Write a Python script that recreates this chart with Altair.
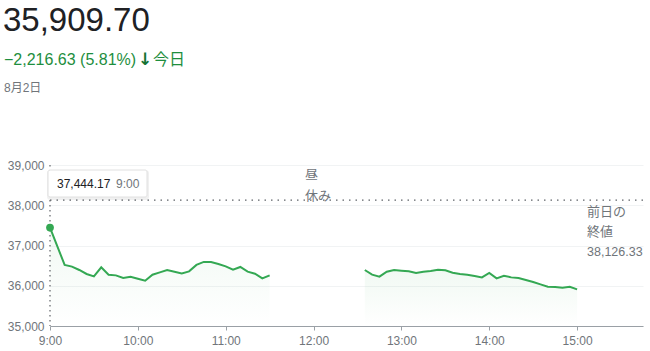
import altair as alt
import pandas as pd

# ---- data ----
morning_times = ["9:00", "9:10", "9:15", "9:20", "9:25", "9:30", "9:35", "9:40", "9:45", "9:50",
                 "9:55", "10:00", "10:05", "10:10", "10:15", "10:20", "10:25", "10:30", "10:35",
                 "10:40", "10:45", "10:50", "10:55", "11:00", "11:05", "11:10", "11:15", "11:20",
                 "11:25", "11:30"]
morning_values = [37444.17, 36517, 36475, 36392, 36292, 36233, 36458, 36275, 36258, 36192,
                  36225, 36175, 36125, 36275, 36333, 36392, 36350, 36308, 36358,
                  36517, 36592, 36592, 36542, 36483, 36400, 36467, 36350, 36300,
                  36183, 36258]
afternoon_times = ["12:35", "12:40", "12:45", "12:50", "12:55", "13:00", "13:05", "13:10", "13:15",
                   "13:20", "13:25", "13:30", "13:35", "13:40", "13:45", "13:50", "13:55", "14:00",
                   "14:05", "14:10", "14:15", "14:20", "14:25", "14:30", "14:35", "14:40", "14:45",
                   "14:50", "14:55", "15:00"]
afternoon_values = [36392, 36275, 36225, 36350, 36392, 36375, 36358, 36317, 36350,
                    36367, 36400, 36383, 36325, 36292, 36275, 36242, 36208, 36317,
                    36183, 36250, 36208, 36192, 36142, 36092, 36033, 35975, 35967,
                    35950, 35975, 35909.70]
prev_close = 38126.33
y_ticks = [35000, 36000, 37000, 38000, 39000]
x_ticks = ["9:00", "10:00", "11:00", "12:00", "13:00", "14:00", "15:00"]
x_end = "15:45"


def to_min(t):
    h, m = t.split(":")
    return (int(h) - 9) * 60 + int(m)


df = pd.DataFrame({
    "t": [to_min(t) for t in morning_times + afternoon_times],
    "label": morning_times + afternoon_times,
    "v": morning_values + afternoon_values,
    "session": ["am"] * len(morning_times) + ["pm"] * len(afternoon_times),
})
df["base"] = 35000

first = df.iloc[[0]]
ref = pd.DataFrame({"v": [prev_close], "t0": [0], "t1": [to_min(x_end)]})

GREEN = "#34a853"
GRAY = "#70757a"
FONT = "Arial, 'Liberation Sans', 'Noto Sans CJK JP'"

xs = alt.Scale(domain=[0, to_min(x_end)], nice=False, zero=False)
ys = alt.Scale(domain=[35000, 39000], nice=False, zero=False)

x_axis = alt.Axis(values=[to_min(t) for t in x_ticks],
                  labelExpr="floor(datum.value/60)+9 + ':00'",
                  grid=False, domainColor="#9aa0a6", tickColor="#9aa0a6",
                  tickSize=4, labelColor=GRAY, labelFontSize=12, labelPadding=5,
                  labelFlush=False, title=None, labelFont=FONT)
y_axis = alt.Axis(values=y_ticks, format=",.0f", grid=True, gridColor="#f1f3f4",
                  domain=False, ticks=False, labelColor=GRAY, labelFontSize=12,
                  labelPadding=6, labelFlush=False, title=None, labelFont=FONT)

X = alt.X("t:Q", scale=xs, axis=x_axis)
Y = alt.Y("v:Q", scale=ys, axis=y_axis)

base = alt.Chart(df)

area = base.mark_area(
    color=alt.Gradient(
        gradient="linear",
        stops=[alt.GradientStop(color="rgba(52,168,83,0.07)", offset=0),
               alt.GradientStop(color="rgba(52,168,83,0.0)", offset=1)],
        x1=1, x2=1, y1=0, y2=1,
    )
).encode(x=X, y=Y, y2="base:Q", detail="session:N")

line = base.mark_line(color=GREEN, strokeWidth=2).encode(
    x=X, y=Y, detail="session:N",
)

hline = alt.Chart(ref).mark_rule(color="#5f6368", strokeDash=[1.5, 5], strokeWidth=1.2).encode(
    x=alt.X("t0:Q", scale=xs, axis=x_axis), x2="t1:Q", y=Y
)

vline = alt.Chart(first).mark_rule(color="#5f6368", strokeDash=[1.5, 3.5], strokeWidth=1.2).encode(
    x=X, y=alt.value(0), y2=alt.value(161)
)

dot = alt.Chart(first).mark_circle(color=GREEN, size=60, opacity=1).encode(x=X, y=Y)

box = alt.Chart(first).mark_rect(fill="white", stroke="#e0e0e0", strokeWidth=1,
                                 cornerRadius=2).encode(
    x=alt.value(-2), x2=alt.value(97), y=alt.value(5), y2=alt.value(32)
)
box_shadow = alt.Chart(first).mark_rect(fill="#000000", opacity=0.06, cornerRadius=3).encode(
    x=alt.value(-3), x2=alt.value(99), y=alt.value(5), y2=alt.value(35)
)

tip_val = alt.Chart(first).mark_text(align="left", baseline="middle", fontSize=12,
                                     color="#202124", font=FONT).encode(
    x=alt.value(7), y=alt.value(19), text=alt.Text("v:Q", format=",.2f")
)
tip_time = alt.Chart(first).mark_text(align="left", baseline="middle", fontSize=12,
                                      color=GRAY, font=FONT).encode(
    x=alt.value(66), y=alt.value(19), text="label:N"
)


def txt(s, x, y, size, color, weight="normal", font=FONT):
    return alt.Chart(pd.DataFrame({"s": [s]})).mark_text(
        align="left", baseline="alphabetic", fontSize=size, color=color, font=font,
        fontWeight=weight
    ).encode(x=alt.value(x), y=alt.value(y), text="s:N")


# plot area starts at (50, 165) in page coordinates
price = txt("35,909.70", -47, -134, 33, "#202124")
change = txt("\u22122,216.63 (5.81%)", -46, -100, 16, "#1e8e3e")
arrow = txt("\u2193", 88, -100, 17, "#137333", weight="bold", font="'DejaVu Sans'")
today = txt("今日", 103, -100, 16, "#1e8e3e")
date = txt("8月2日", -46, -73, 12, GRAY)
lunch1 = txt("昼", 255, 14, 13, GRAY)
lunch2 = txt("休み", 255, 35, 13, GRAY)
pc1 = txt("前日の", 537, 51, 13, GRAY)
pc2 = txt("終値", 537, 71, 13, GRAY)
pc3 = txt("38,126.33", 537, 91, 12.5, GRAY)

chart = alt.layer(
    area, line, hline, vline, dot, box_shadow, box, tip_val, tip_time,
    price, change, arrow, today, date, lunch1, lunch2, pc1, pc2, pc3
).properties(
    width=593, height=161,
    autosize=alt.AutoSizeParams(type="none"),
    padding={"left": 50, "top": 165, "right": 7, "bottom": 25},
    background="white",
).configure_view(stroke=None)

chart.save("out.html", embed_options={"renderer": "svg", "actions": False})
